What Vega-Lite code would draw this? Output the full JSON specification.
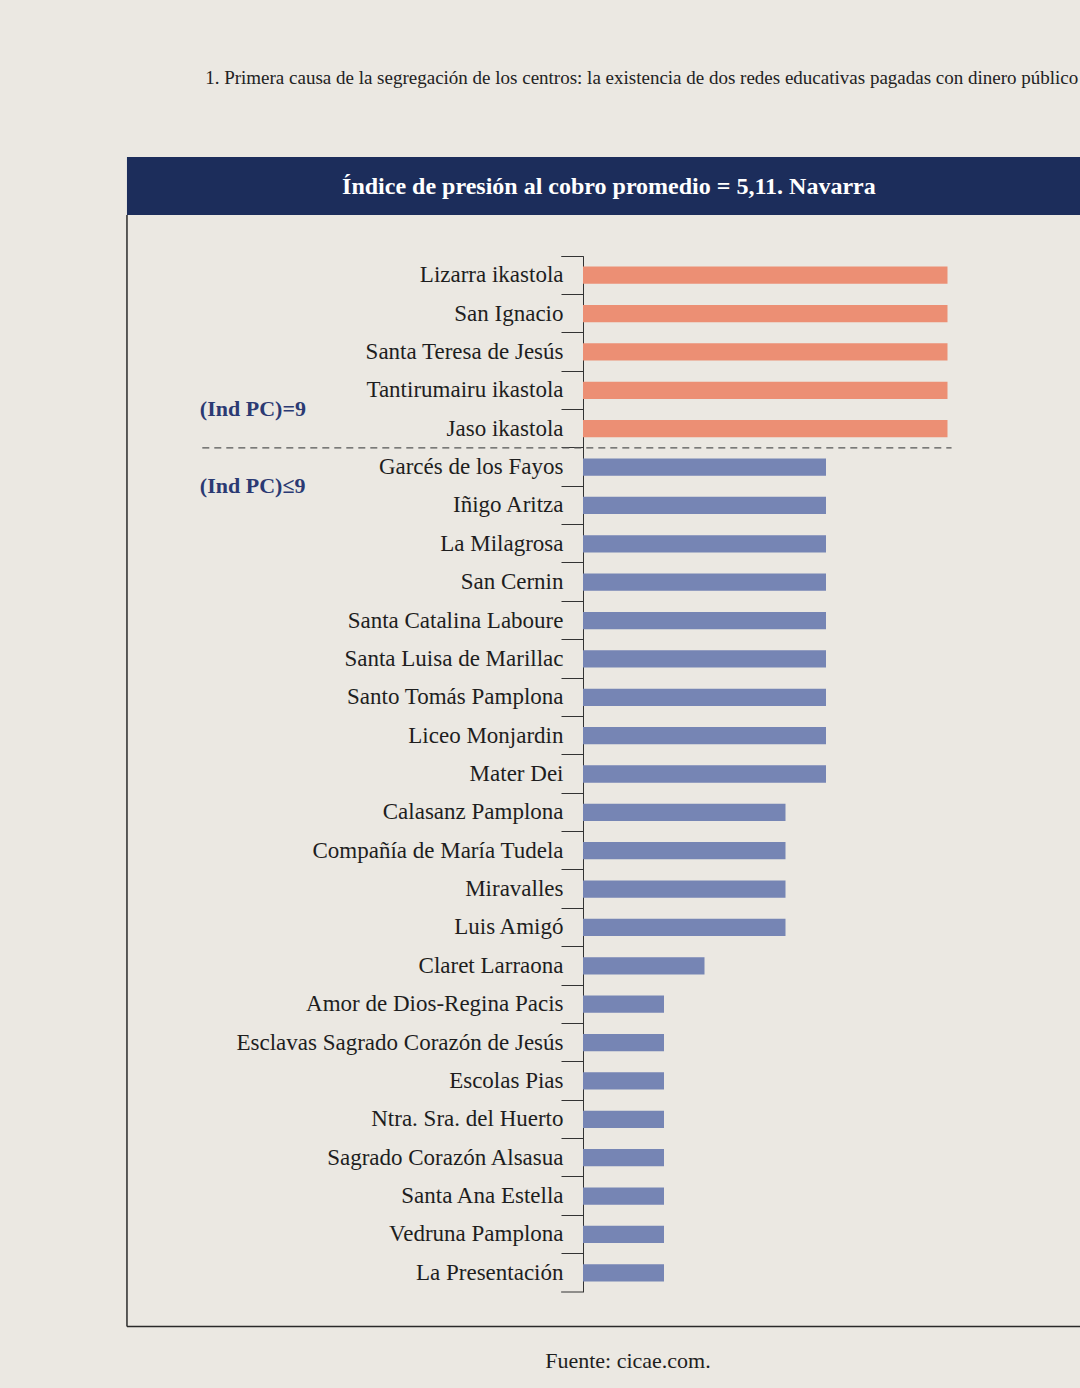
{
  "$schema": "https://vega.github.io/schema/vega-lite/v6.json",
  "autosize": {"type": "none"},
  "width": 405,
  "height": 1036,
  "padding": {"left": 583, "top": 256, "right": 92, "bottom": 96},
  "background": "#ebe8e2",
  "config": {"view": {"stroke": null}, "font": "Liberation Serif"},
  "datasets": {
    "centros": [
      {"centro": "Lizarra ikastola", "indice": 9, "grupo": "=9"},
      {"centro": "San Ignacio", "indice": 9, "grupo": "=9"},
      {"centro": "Santa Teresa de Jesús", "indice": 9, "grupo": "=9"},
      {"centro": "Tantirumairu ikastola", "indice": 9, "grupo": "=9"},
      {"centro": "Jaso ikastola", "indice": 9, "grupo": "=9"},
      {"centro": "Garcés de los Fayos", "indice": 6, "grupo": "≤9"},
      {"centro": "Iñigo Aritza", "indice": 6, "grupo": "≤9"},
      {"centro": "La Milagrosa", "indice": 6, "grupo": "≤9"},
      {"centro": "San Cernin", "indice": 6, "grupo": "≤9"},
      {"centro": "Santa Catalina Laboure", "indice": 6, "grupo": "≤9"},
      {"centro": "Santa Luisa de Marillac", "indice": 6, "grupo": "≤9"},
      {"centro": "Santo Tomás Pamplona", "indice": 6, "grupo": "≤9"},
      {"centro": "Liceo Monjardin", "indice": 6, "grupo": "≤9"},
      {"centro": "Mater Dei", "indice": 6, "grupo": "≤9"},
      {"centro": "Calasanz Pamplona", "indice": 5, "grupo": "≤9"},
      {"centro": "Compañía de María Tudela", "indice": 5, "grupo": "≤9"},
      {"centro": "Miravalles", "indice": 5, "grupo": "≤9"},
      {"centro": "Luis Amigó", "indice": 5, "grupo": "≤9"},
      {"centro": "Claret Larraona", "indice": 3, "grupo": "≤9"},
      {"centro": "Amor de Dios-Regina Pacis", "indice": 2, "grupo": "≤9"},
      {"centro": "Esclavas Sagrado Corazón de Jesús", "indice": 2, "grupo": "≤9"},
      {"centro": "Escolas Pias", "indice": 2, "grupo": "≤9"},
      {"centro": "Ntra. Sra. del Huerto", "indice": 2, "grupo": "≤9"},
      {"centro": "Sagrado Corazón Alsasua", "indice": 2, "grupo": "≤9"},
      {"centro": "Santa Ana Estella", "indice": 2, "grupo": "≤9"},
      {"centro": "Vedruna Pamplona", "indice": 2, "grupo": "≤9"},
      {"centro": "La Presentación", "indice": 2, "grupo": "≤9"}
    ]
  },
  "layer": [
    {
      "data": {"values": [{}]},
      "layer": [
        {
          "mark": {"type": "rect", "color": "#1c2d5b"},
          "encoding": {
            "x": {"datum": -11.26, "scale": {"domain": [0, 10]}, "axis": null},
            "x2": {"datum": 12.6},
            "y": {"datum": -2.58, "scale": {"domain": [0, 27], "reverse": true, "zero": false, "nice": false}, "axis": null},
            "y2": {"datum": -1.07}
          }
        },
        {
          "mark": {"type": "rule", "color": "#2a2a2a", "strokeWidth": 1.5},
          "encoding": {
            "x": {"datum": -11.26, "scale": {"domain": [0, 10]}, "axis": null},
            "y": {"datum": -1.07, "scale": {"domain": [0, 27], "reverse": true, "zero": false, "nice": false}, "axis": null},
            "y2": {"datum": 27.9}
          }
        },
        {
          "mark": {"type": "rule", "color": "#2a2a2a", "strokeWidth": 1.5},
          "encoding": {
            "x": {"datum": -11.26, "scale": {"domain": [0, 10]}, "axis": null},
            "x2": {"datum": 12.6},
            "y": {"datum": 27.9, "scale": {"domain": [0, 27], "reverse": true, "zero": false, "nice": false}, "axis": null}
          }
        },
        {
          "mark": {"type": "text", "color": "#ffffff", "fontSize": 24, "fontWeight": "bold", "align": "center", "baseline": "middle", "font": "Liberation Serif"},
          "encoding": {
            "x": {"datum": 0.64, "scale": {"domain": [0, 10]}, "axis": null},
            "y": {"datum": -1.8, "scale": {"domain": [0, 27], "reverse": true, "zero": false, "nice": false}, "axis": null},
            "text": {"value": "Índice de presión al  cobro promedio = 5,11. Navarra"}
          }
        },
        {
          "mark": {"type": "text", "color": "#222222", "fontSize": 19, "align": "left", "baseline": "middle", "font": "Liberation Serif"},
          "encoding": {
            "x": {"datum": -9.33, "scale": {"domain": [0, 10]}, "axis": null},
            "y": {"datum": -4.64, "scale": {"domain": [0, 27], "reverse": true, "zero": false, "nice": false}, "axis": null},
            "text": {"value": "1. Primera causa de la segregación de los centros: la existencia de dos redes educativas pagadas con dinero público"}
          }
        },
        {
          "mark": {"type": "text", "color": "#1e1e1e", "fontSize": 22, "align": "center", "baseline": "middle", "font": "Liberation Serif"},
          "encoding": {
            "x": {"datum": 1.11, "scale": {"domain": [0, 10]}, "axis": null},
            "y": {"datum": 28.8, "scale": {"domain": [0, 27], "reverse": true, "zero": false, "nice": false}, "axis": null},
            "text": {"value": "Fuente: cicae.com."}
          }
        }
      ]
    },
    {
      "layer": [
        {
          "data": {"name": "centros"},
          "mark": {"type": "bar", "height": {"band": 0.45}},
          "encoding": {
            "y": {
              "field": "centro", "type": "nominal", "sort": null,
              "scale": {"paddingInner": 0, "paddingOuter": 0},
              "axis": {
                "title": null, "orient": "left", "bandPosition": 0, "tickExtra": true,
                "tickSize": 22, "labelPadding": -2, "labelFontSize": 23,
                "labelFont": "Liberation Serif", "labelColor": "#1e1e1e",
                "domainColor": "#333333", "tickColor": "#333333", "labelLimit": 450
              }
            },
            "x": {"field": "indice", "type": "quantitative", "scale": {"domain": [0, 10]}, "axis": null},
            "color": {"field": "grupo", "type": "nominal", "scale": {"domain": ["=9", "≤9"], "range": ["#ec8f74", "#7685b4"]}, "legend": null}
          }
        },
        {
          "data": {"values": [{}]},
          "mark": {"type": "rule", "color": "#333333", "strokeWidth": 1},
          "encoding": {
            "y": {"datum": "La Presentación", "type": "nominal", "bandPosition": 1},
            "x": {"datum": -0.54, "scale": {"domain": [0, 10]}, "axis": null},
            "x2": {"datum": 0}
          }
        },
        {
          "data": {"values": [{}]},
          "mark": {"type": "rule", "color": "#555555", "strokeWidth": 1.2, "strokeDash": [7, 5]},
          "encoding": {
            "y": {"datum": "Garcés de los Fayos", "type": "nominal", "bandPosition": 0},
            "x": {"datum": -9.4, "scale": {"domain": [0, 10]}, "axis": null},
            "x2": {"datum": 9.1}
          }
        },
        {
          "data": {"values": [{}]},
          "mark": {"type": "text", "color": "#2b3a73", "fontSize": 22, "fontWeight": "bold", "align": "left", "baseline": "middle", "font": "Liberation Serif"},
          "encoding": {
            "y": {"datum": "Jaso ikastola", "type": "nominal", "bandPosition": 0},
            "x": {"datum": -9.46, "scale": {"domain": [0, 10]}, "axis": null},
            "text": {"value": "(Ind PC)=9"}
          }
        },
        {
          "data": {"values": [{}]},
          "mark": {"type": "text", "color": "#2b3a73", "fontSize": 22, "fontWeight": "bold", "align": "left", "baseline": "middle", "font": "Liberation Serif"},
          "encoding": {
            "y": {"datum": "Iñigo Aritza", "type": "nominal", "bandPosition": 0},
            "x": {"datum": -9.46, "scale": {"domain": [0, 10]}, "axis": null},
            "text": {"value": "(Ind PC)≤9"}
          }
        }
      ]
    }
  ],
  "resolve": {"scale": {"y": "independent"}}
}
